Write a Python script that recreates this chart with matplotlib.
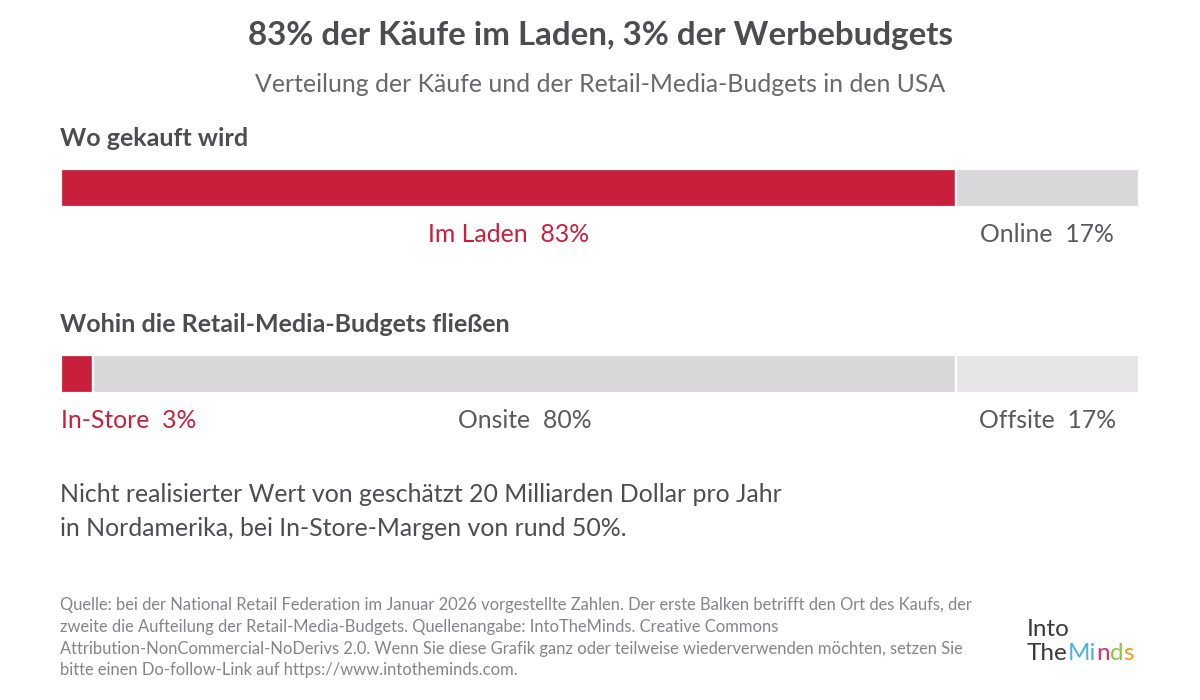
import matplotlib
matplotlib.use("Agg")
import matplotlib.pyplot as plt

plt.rcParams['font.family'] = ['Lato', 'DejaVu Sans']

# ---- data ----
title = "83% der Käufe im Laden, 3% der Werbebudgets"
subtitle = "Verteilung der Käufe und der Retail-Media-Budgets in den USA"
section1 = "Wo gekauft wird"
section2 = "Wohin die Retail-Media-Budgets fließen"
purchase_labels = ["Im Laden", "Online"]
purchase_values = [83, 17]
budget_labels = ["In-Store", "Onsite", "Offsite"]
budget_values = [3, 80, 17]
body_lines = ["Nicht realisierter Wert von geschätzt 20 Milliarden Dollar pro Jahr",
              "in Nordamerika, bei In-Store-Margen von rund 50%."]
source_lines = [
    "Quelle: bei der National Retail Federation im Januar 2026 vorgestellte Zahlen. Der erste Balken betrifft den Ort des Kaufs, der",
    "zweite die Aufteilung der Retail-Media-Budgets. Quellenangabe: IntoTheMinds. Creative Commons",
    "Attribution-NonCommercial-NoDerivs 2.0. Wenn Sie diese Grafik ganz oder teilweise wiederverwenden möchten, setzen Sie",
    "bitte einen Do-follow-Link auf https://www.intotheminds.com.",
]

RED = "#C8203C"
GRAY = "#D9D7DA"
LIGHT = "#E6E4E7"
DARK = "#4D4D50"
MID = "#5A5A5E"
SRC = "#858588"

purchase_colors = [RED, GRAY]
budget_colors = [RED, GRAY, LIGHT]
purchase_text = [RED, MID]
budget_text = [RED, MID, MID]

W, H = 1200, 700
fig = plt.figure(figsize=(12, 7), dpi=100)
fig.patch.set_facecolor("white")

def fx(px):
    return px / W

def fy(py):
    return 1 - py / H

fig.text(0.5, fy(36), title, ha="center", va="center", fontsize=23.9, fontweight="bold", color=DARK)
fig.text(0.5, fy(84), subtitle, ha="center", va="center", fontsize=17.9, color="#69696C")
fig.text(fx(60), fy(138), section1, ha="left", va="center", fontsize=18, fontweight="bold", color=DARK)
fig.text(fx(60), fy(324), section2, ha="left", va="center", fontsize=18, fontweight="bold", color=DARK)


def stacked_bar(top_px, values, colors, labels, tcolors, label_y_px, first_left=False):
    left_px, right_px, h_px = 61, 1139, 38
    ax = fig.add_axes([fx(left_px), fy(top_px + h_px), (right_px - left_px) / W, h_px / H])
    ax.set_xlim(0, sum(values))
    ax.set_ylim(-0.5, 0.5)
    ax.axis("off")
    start = 0
    for i, (v, c, lab, tc) in enumerate(zip(values, colors, labels, tcolors)):
        ax.barh(0, v, left=start, height=1.0, color=c, edgecolor="white", linewidth=1.6)
        txt = f"{lab}  {v}%"
        yy = 0.5 - (label_y_px - top_px) / h_px
        if first_left and i == 0:
            ax.text(start, yy, txt, ha="left", va="center", fontsize=17.8, color=tc, clip_on=False)
        else:
            ax.text(start + v / 2, yy, txt, ha="center", va="center", fontsize=17.8, color=tc, clip_on=False)
        start += v
    return ax

stacked_bar(169, purchase_values, purchase_colors, purchase_labels, purchase_text, 234)
stacked_bar(355, budget_values, budget_colors, budget_labels, budget_text, 420, first_left=True)

for i, line in enumerate(body_lines):
    fig.text(fx(60), fy(494 + i * 34), line, ha="left", va="center", fontsize=17.95, color=DARK)

for i, line in enumerate(source_lines):
    fig.text(fx(60), fy(605 + i * 21.8), line, ha="left", va="center", fontsize=11.9, color=SRC)

# logo text
fig.text(fx(1027), fy(629), "Into", ha="left", va="center", fontsize=17.5, color="#3A3A3A")
logo_parts = [("The", "#3A3A3A"), ("Mi", "#4AB3E2"), ("n", "#D6336C"), ("d", "#8DC63F"), ("s", "#F7941D")]
renderer = fig.canvas.get_renderer()
xcur = fx(1027)
for part, col in logo_parts:
    t = fig.text(xcur, fy(653), part, ha="left", va="center", fontsize=17.5, color=col)
    bb = t.get_window_extent(renderer=renderer)
    xcur += bb.width / W

fig.savefig("out.png", dpi=100, facecolor="white")
